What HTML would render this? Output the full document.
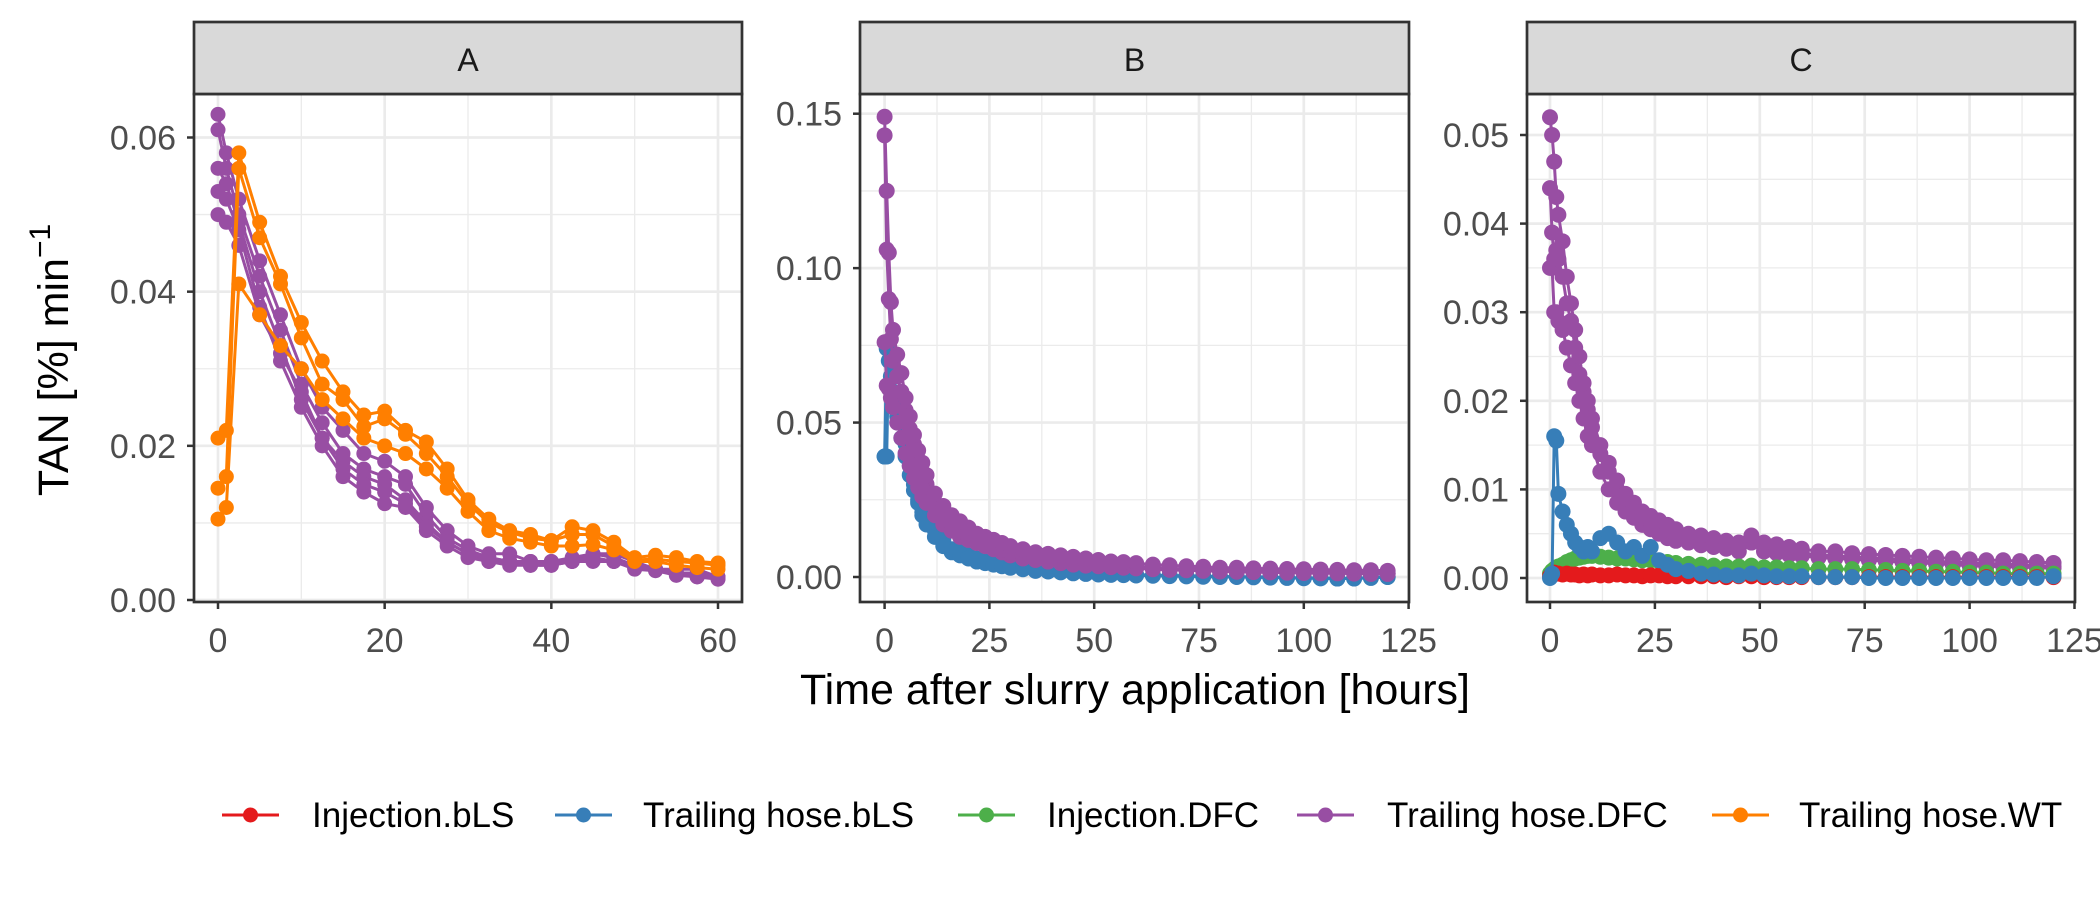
<!DOCTYPE html>
<html><head><meta charset="utf-8"><style>
html,body{margin:0;padding:0;background:#fff}
svg{display:block;font-family:"Liberation Sans",Arial,sans-serif}
</style></head><body>
<svg id="chart" width="2100" height="900" viewBox="0 0 2100 900"></svg>
<script>
const tA=[0,1,2.5,5,7.5,10,12.5,15,17.5,20,22.5,25,27.5,30,32.5,35,37.5,40,42.5,45,47.5,50,52.5,55,57.5,60];
const aPurple1=[0.063,0.058,0.052,0.044,0.037,0.030,0.025,0.022,0.019,0.018,0.016,0.012,0.009,0.007,0.006,0.006,0.005,0.005,0.005,0.006,0.006,0.005,0.004,0.004,0.004,0.003];
const aPurple2=[0.061,0.056,0.050,0.042,0.035,0.028,0.023,0.019,0.017,0.016,0.015,0.011,0.008,0.0065,0.0055,0.005,0.005,0.005,0.0055,0.006,0.0055,0.0045,0.004,0.0035,0.0035,0.003];
const aPurple3=[0.056,0.054,0.049,0.040,0.033,0.026,0.021,0.018,0.016,0.015,0.013,0.010,0.0075,0.006,0.005,0.005,0.0045,0.0045,0.005,0.0055,0.005,0.0042,0.004,0.0035,0.003,0.0028];
const aPurple4=[0.053,0.052,0.048,0.038,0.031,0.025,0.020,0.016,0.014,0.0125,0.012,0.009,0.007,0.0055,0.005,0.0045,0.0045,0.0045,0.005,0.005,0.005,0.004,0.0038,0.0032,0.003,0.0027];
const aPurple5=[0.050,0.049,0.046,0.037,0.032,0.027,0.021,0.017,0.015,0.014,0.0125,0.0095,0.0075,0.006,0.0055,0.005,0.0048,0.0048,0.0052,0.0055,0.005,0.0043,0.004,0.0036,0.0032,0.003];
const aOrange1=[0.021,0.022,0.058,0.049,0.042,0.036,0.031,0.027,0.024,0.0245,0.022,0.0205,0.017,0.013,0.0105,0.009,0.0085,0.0077,0.0095,0.009,0.0075,0.0055,0.0058,0.0055,0.005,0.0048];
const aOrange2=[0.0145,0.016,0.056,0.047,0.041,0.034,0.028,0.026,0.0225,0.0235,0.0215,0.019,0.016,0.0125,0.01,0.0088,0.008,0.0077,0.0085,0.0085,0.007,0.0052,0.0053,0.005,0.0048,0.0045];
const aOrange3=[0.0105,0.012,0.041,0.037,0.033,0.030,0.026,0.0235,0.021,0.020,0.019,0.017,0.0145,0.0115,0.009,0.008,0.0075,0.007,0.007,0.0072,0.0065,0.005,0.005,0.0045,0.0042,0.004];

const tB=[0,0.5,1,1.5,2,3,4,5,6,7,8,9,10,12,14,16,18,20,22,24,26,28,30,33,36,39,42,45,48,51,54,57,60,64,68,72,76,80,84,88,92,96,100,104,108,112,116,120];
const bPurple1=[0.149,0.125,0.105,0.089,0.08,0.072,0.066,0.058,0.052,0.046,0.041,0.037,0.033,0.027,0.023,0.02,0.018,0.016,0.014,0.013,0.012,0.011,0.010,0.009,0.008,0.0075,0.007,0.0065,0.006,0.0055,0.005,0.0048,0.0045,0.004,0.0038,0.0035,0.0033,0.003,0.003,0.0028,0.0027,0.0026,0.0025,0.0024,0.0023,0.0022,0.0022,0.002];
const bPurple2=[0.143,0.106,0.09,0.077,0.07,0.065,0.06,0.054,0.048,0.043,0.038,0.034,0.030,0.024,0.020,0.017,0.015,0.013,0.012,0.011,0.010,0.009,0.008,0.007,0.0065,0.006,0.0055,0.005,0.0045,0.0042,0.004,0.0037,0.0035,0.003,0.0028,0.0026,0.0025,0.0023,0.0022,0.002,0.002,0.0018,0.0017,0.0016,0.0015,0.0015,0.0014,0.0012];
const bPurple3=[0.076,0.062,0.061,0.058,0.055,0.05,0.045,0.040,0.036,0.032,0.029,0.026,0.024,0.020,0.017,0.015,0.013,0.012,0.011,0.010,0.009,0.008,0.007,0.006,0.0055,0.005,0.0045,0.004,0.0037,0.0035,0.0032,0.003,0.0028,0.0025,0.0023,0.0022,0.002,0.0018,0.0017,0.0016,0.0015,0.0014,0.0013,0.0012,0.0012,0.0011,0.001,0.001];
const bBlue1=[0.039,0.039,0.076,0.072,0.066,0.058,0.05,0.043,0.036,0.030,0.025,0.021,0.019,0.015,0.012,0.009,0.008,0.007,0.006,0.005,0.0045,0.004,0.0035,0.003,0.0025,0.002,0.0018,0.0015,0.0013,0.0012,0.001,0.001,0.0008,0.0006,0.0005,0.0004,0.0003,0.0002,0.0001,0,0,-0.0002,-0.0003,-0.0004,-0.0005,-0.0005,-0.0003,0];
const bBlue2=[0.039,0.074,0.07,0.065,0.06,0.052,0.045,0.039,0.033,0.028,0.024,0.020,0.017,0.013,0.010,0.008,0.007,0.006,0.005,0.0045,0.004,0.0035,0.003,0.0025,0.002,0.0018,0.0015,0.0012,0.001,0.0008,0.0007,0.0006,0.0005,0.0004,0.0003,0.0002,0.0001,0,0,-0.0001,-0.0002,-0.0003,-0.0004,-0.0004,-0.0005,-0.0004,-0.0002,0];

const cPurple1=[0.052,0.050,0.047,0.043,0.041,0.038,0.034,0.031,0.028,0.025,0.022,0.020,0.018,0.015,0.013,0.011,0.0095,0.0085,0.0075,0.007,0.0065,0.006,0.0055,0.005,0.0048,0.0045,0.0042,0.004,0.0048,0.004,0.0038,0.0035,0.0033,0.003,0.003,0.0028,0.0027,0.0026,0.0025,0.0024,0.0023,0.0022,0.0021,0.002,0.002,0.0019,0.0018,0.0017];
const cPurple2=[0.044,0.039,0.036,0.037,0.036,0.034,0.031,0.029,0.026,0.023,0.021,0.019,0.017,0.014,0.012,0.010,0.009,0.008,0.007,0.0065,0.006,0.0055,0.005,0.0045,0.0042,0.004,0.0038,0.0035,0.0045,0.0035,0.0033,0.003,0.0028,0.0026,0.0025,0.0024,0.0023,0.0022,0.0021,0.002,0.0019,0.0018,0.0017,0.0016,0.0016,0.0015,0.0014,0.0013];
const cPurple3=[0.035,0.035,0.030,0.030,0.029,0.028,0.026,0.024,0.022,0.020,0.018,0.016,0.015,0.012,0.010,0.0085,0.0075,0.0068,0.006,0.0055,0.005,0.0045,0.0042,0.004,0.0037,0.0035,0.0033,0.003,0.004,0.003,0.0028,0.0026,0.0025,0.0023,0.0022,0.0021,0.002,0.0019,0.0018,0.0017,0.0016,0.0015,0.0014,0.0013,0.0013,0.0012,0.0012,0.0011];
const cBlue=[0,0.0005,0.016,0.0155,0.0095,0.0075,0.006,0.005,0.004,0.0035,0.003,0.0035,0.003,0.0045,0.005,0.004,0.003,0.0035,0.0025,0.0035,0.002,0.0015,0.001,0.0008,0.0005,0.0004,0.0003,0.0003,0.0005,0.0003,0.0002,0.0002,0.0002,0.0001,0.0001,0.0001,0,0,0,0,0,0,0,0,0,0,0,0.0002];
const cGreen=[0.0005,0.0008,0.001,0.0012,0.0013,0.0015,0.0018,0.002,0.0022,0.0023,0.0024,0.0025,0.0025,0.0024,0.0023,0.0022,0.0022,0.0021,0.002,0.002,0.0019,0.0018,0.0017,0.0016,0.0015,0.0014,0.0013,0.0013,0.0014,0.0012,0.0012,0.0011,0.0011,0.001,0.001,0.001,0.0009,0.0009,0.0008,0.0008,0.0007,0.0007,0.0006,0.0006,0.0005,0.0005,0.0005,0.0005];
const cRed=[0.0002,0.0004,0.0006,0.0005,0.0005,0.0004,0.0005,0.0004,0.0004,0.0003,0.0004,0.0003,0.0004,0.0003,0.0003,0.0004,0.0003,0.0003,0.0002,0.0003,0.0003,0.0002,0.0002,0.0002,0.0002,0.0002,0.0001,0.0002,0.0002,0.0001,0.0001,0.0001,0.0001,0.0001,0.0001,0.0001,0.0001,0.0001,0.0001,0.0001,0.0001,0.0001,0.0001,0.0001,0.0001,0.0001,0.0001,0.0001];

const yTicksA=[0,0.02,0.04,0.06], yLabelsA=["0.00","0.02","0.04","0.06"];
const xTicksA=[0,20,40,60];
const yTicksB=[0,0.05,0.10,0.15], yLabelsB=["0.00","0.05","0.10","0.15"];
const yTicksC=[0,0.01,0.02,0.03,0.04,0.05], yLabelsC=["0.00","0.01","0.02","0.03","0.04","0.05"];
const xTicksBC=[0,25,50,75,100,125];
const legendLabels=["Injection.bLS","Trailing hose.bLS","Injection.DFC","Trailing hose.DFC","Trailing hose.WT"];
const COL={red:"#E41A1C",blue:"#377EB8",green:"#4DAF4A",purple:"#984EA3",orange:"#FF7F00"};

const NS="http://www.w3.org/2000/svg";
const svg=document.getElementById('chart');
function mk(tag,attrs,parent){const e=document.createElementNS(NS,tag);for(const k in attrs)e.setAttribute(k,attrs[k]);(parent||svg).appendChild(e);return e;}

const panels=[
 {id:'a',label:'A',L:194,R:742,T:94,B:602,x0:0,x0px:218,x1:60,x1px:718,y0:0,y0px:600,y1:0.06,y1px:137.5,
  yt:yTicksA,yl:yLabelsA,xt:xTicksA,xminor:[10,30,50],yminor:[0.01,0.03,0.05],
  series:[[aPurple1,'purple'],[aPurple2,'purple'],[aPurple3,'purple'],[aPurple4,'purple'],[aPurple5,'purple'],[aOrange1,'orange'],[aOrange2,'orange'],[aOrange3,'orange']],t:tA,r:7.5},
 {id:'b',label:'B',L:860,R:1409,T:94,B:602,x0:0,x0px:884.6,x1:125,x1px:1408.6,y0:0,y0px:577,y1:0.15,y1px:113.7,
  yt:yTicksB,yl:yLabelsB,xt:xTicksBC,xminor:[12.5,37.5,62.5,87.5,112.5],yminor:[0.025,0.075,0.125],
  series:[[bBlue1,'blue'],[bBlue2,'blue'],[bPurple3,'purple'],[bPurple2,'purple'],[bPurple1,'purple']],t:tB,r:8},
 {id:'c',label:'C',L:1527,R:2075,T:94,B:602,x0:0,x0px:1550,x1:125,x1px:2074.5,y0:0,y0px:578,y1:0.05,y1px:135,
  yt:yTicksC,yl:yLabelsC,xt:xTicksBC,xminor:[12.5,37.5,62.5,87.5,112.5],yminor:[0.005,0.015,0.025,0.035,0.045],
  series:[[cPurple3,'purple'],[cPurple2,'purple'],[cPurple1,'purple'],[cGreen,'green'],[cRed,'red'],[cBlue,'blue']],t:tB,r:8}
];

panels.forEach(p=>{
  const sx=v=>p.x0px+(v-p.x0)*(p.x1px-p.x0px)/(p.x1-p.x0);
  const sy=v=>p.y0px+(v-p.y0)*(p.y1px-p.y0px)/(p.y1-p.y0);
  const g=mk('g',{});
  
  
  mk('rect',{x:p.L,y:p.T,width:p.R-p.L,height:p.B-p.T,fill:'#fff'},g);
  p.yminor.forEach(v=>mk('line',{x1:p.L,x2:p.R,y1:sy(v),y2:sy(v),stroke:'#EBEBEB','stroke-width':1.3},g));
  p.xminor.forEach(v=>mk('line',{y1:p.T,y2:p.B,x1:sx(v),x2:sx(v),stroke:'#EBEBEB','stroke-width':1.3},g));
  p.yt.forEach(v=>mk('line',{x1:p.L,x2:p.R,y1:sy(v),y2:sy(v),stroke:'#EBEBEB','stroke-width':2.7},g));
  p.xt.forEach(v=>{if(sx(v)<=p.R)mk('line',{y1:p.T,y2:p.B,x1:sx(v),x2:sx(v),stroke:'#EBEBEB','stroke-width':2.7},g);});
  const clip=mk('clipPath',{id:'clip'+p.id},g);
  mk('rect',{x:p.L,y:p.T,width:p.R-p.L,height:p.B-p.T},clip);
  const sg=mk('g',{'clip-path':'url(#clip'+p.id+')'},g);
  p.series.forEach((s,i)=>{
    const vals=s[0],c=COL[s[1]];
    const sgg=mk('g',{},sg);
    
    
    let d='';vals.forEach((v,k)=>{d+=(k?'L':'M')+sx(p.t[k]).toFixed(1)+' '+sy(v).toFixed(1);});
    mk('path',{d:d,fill:'none',stroke:c,'stroke-width':3}, sgg);
    vals.forEach((v,k)=>{const pt=mk('circle',{cx:sx(p.t[k]),cy:sy(v),r:p.r,fill:c},sgg);
      
      });
  });
  mk('rect',{x:p.L,y:p.T,width:p.R-p.L,height:p.B-p.T,fill:'none',stroke:'#333','stroke-width':2.7},g);
  const st=mk('g',{},g);
  
  
  mk('rect',{x:p.L,y:22,width:p.R-p.L,height:p.T-22,fill:'#D9D9D9',stroke:'#333','stroke-width':2.7},st);
  const tl=mk('text',{x:(p.L+p.R)/2,y:71,'text-anchor':'middle','font-size':32,fill:'#1A1A1A'},st);tl.textContent=p.label;
  p.yt.forEach((v,i)=>{
    mk('line',{x1:p.L-7,x2:p.L,y1:sy(v),y2:sy(v),stroke:'#333','stroke-width':2.5},g);
    const t=mk('text',{x:p.L-18,y:sy(v)+12,'text-anchor':'end','font-size':34,fill:'#4D4D4D'},g);
    
    
    t.textContent=p.yl[i];
  });
  p.xt.forEach(v=>{
    const x=sx(v);
    mk('line',{x1:x,x2:x,y1:p.B,y2:p.B+7,stroke:'#333','stroke-width':2.5},g);
    const t=mk('text',{x:x,y:p.B+50,'text-anchor':'middle','font-size':34,fill:'#4D4D4D'},g);
    
    
    t.textContent=v;
  });
});

const xt=mk('text',{x:1135,y:704,'text-anchor':'middle','font-size':43,fill:'#000'});


xt.textContent='Time after slurry application [hours]';
const yt=mk('text',{x:0,y:0,transform:'translate(68,360) rotate(-90)','text-anchor':'middle','font-size':43,fill:'#000'});


yt.innerHTML='TAN [%]  min<tspan dy="-18" font-size="30">−1</tspan>';

const legKeys=[222,555,958,1297,1712];
const legText=[312,643,1047,1387,1799];
const legCols=['red','blue','green','purple','orange'];
legendLabels.forEach((lab,i)=>{
  const g=mk('g',{});
  
  
  const x=legKeys[i],y=815;
  mk('line',{x1:x,x2:x+57,y1:y,y2:y,stroke:COL[legCols[i]],'stroke-width':3}, g);
  mk('circle',{cx:x+28.5,cy:y,r:7.5,fill:COL[legCols[i]]},g);
  const t=mk('text',{x:legText[i],y:y+12,'font-size':35,fill:'#000'},g);t.textContent=lab;
});
</script>
</body></html>
